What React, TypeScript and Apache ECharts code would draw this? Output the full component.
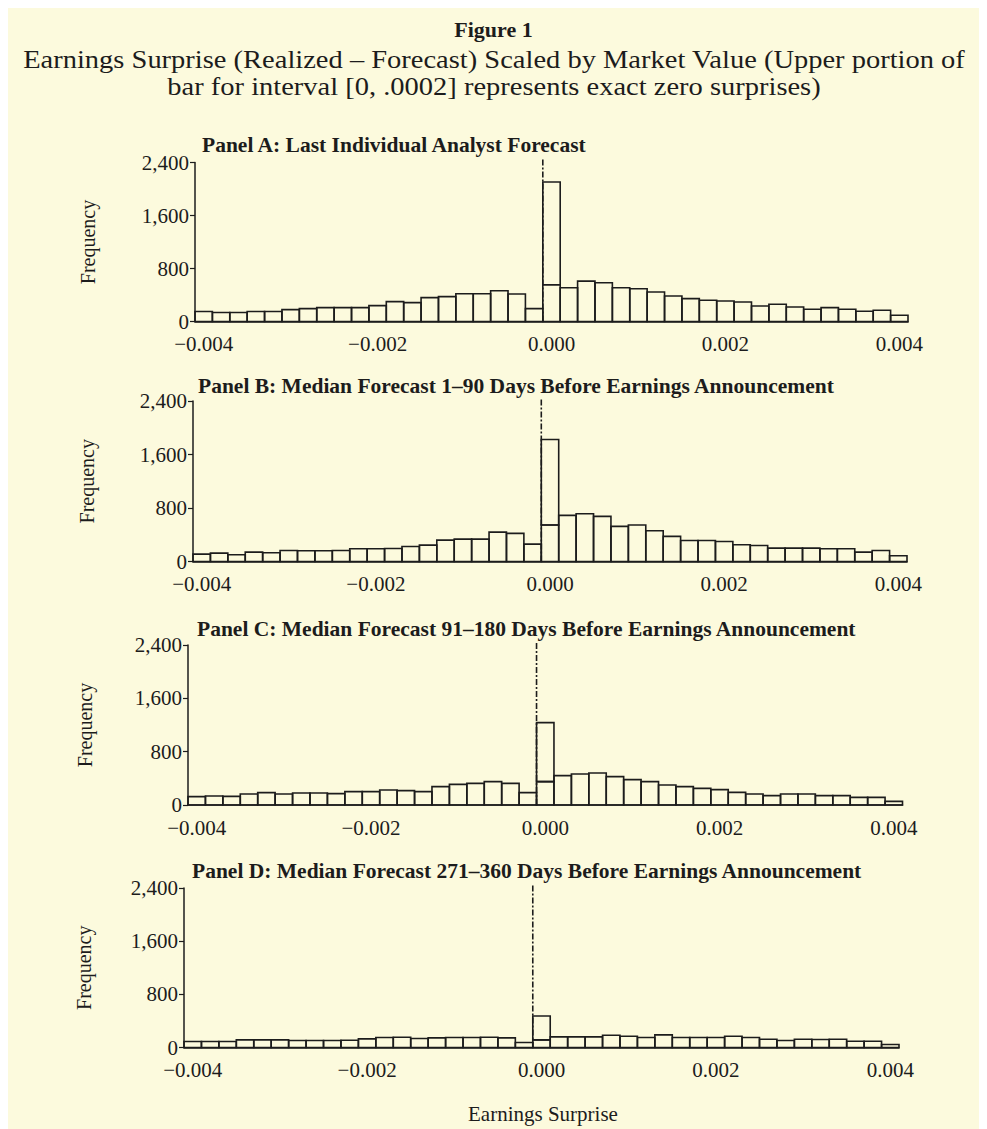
import React, { useEffect, useRef } from "react";
import * as echarts from "echarts";

// Bin midpoints of the histogram (bin width 0.0002)
const BIN_MIDS = [
  -0.004, -0.0038, -0.0036, -0.0034, -0.0032, -0.003, -0.0028, -0.0026, -0.0024, -0.0022,
  -0.002, -0.0018, -0.0016, -0.0014, -0.0012, -0.001, -0.0008, -0.0006, -0.0004, -0.0002,
  0,
  0.0002, 0.0004, 0.0006, 0.0008, 0.001, 0.0012, 0.0014, 0.0016, 0.0018, 0.002,
  0.0022, 0.0024, 0.0026, 0.0028, 0.003, 0.0032, 0.0034, 0.0036, 0.0038, 0.004,
];
const BIN_WIDTH = 0.0002;
const X_TICKS = [-0.004, -0.002, 0, 0.002, 0.004];
const X_MIN = -0.0041;
const X_MAX = 0.0041;
const Y_MAX = 2400;
const Y_INTERVAL = 800;
const ZERO_LINE_TOP = 2450;

const PANEL_TITLES = [
  "Panel A: Last Individual Analyst Forecast",
  "Panel B: Median Forecast 1\u201390 Days Before Earnings Announcement",
  "Panel C: Median Forecast 91\u2013180 Days Before Earnings Announcement",
  "Panel D: Median Forecast 271\u2013360 Days Before Earnings Announcement",
];

// Frequencies per bin (zero bin holds the non-exact-zero part)
const PANEL_A = [
  150, 135, 135, 150, 150, 180, 195, 210, 210, 210,
  240, 300, 285, 360, 375, 420, 420, 465, 415, 195,
  555,
  510, 610, 585, 510, 495, 445, 385, 345, 320, 310,
  295, 235, 260, 220, 185, 210, 185, 155, 170, 95,
];
const PANEL_A_EXACT_ZERO = 1550;

const PANEL_B = [
  110, 125, 100, 140, 130, 165, 160, 160, 165, 190,
  190, 195, 225, 245, 320, 335, 335, 440, 420, 260,
  545,
  690, 715, 675, 525, 545, 460, 375, 315, 315, 300,
  250, 240, 200, 200, 200, 190, 190, 140, 165, 85,
];
const PANEL_B_EXACT_ZERO = 1280;

const PANEL_C = [
  125, 135, 130, 165, 185, 165, 180, 180, 170, 200,
  200, 225, 215, 200, 275, 310, 325, 350, 325, 185,
  350,
  440, 465, 480, 425, 380, 350, 300, 275, 250, 230,
  190, 165, 140, 165, 165, 140, 140, 115, 115, 55,
];
const PANEL_C_EXACT_ZERO = 885;

const PANEL_D = [
  90, 90, 90, 115, 115, 115, 105, 105, 105, 110,
  130, 150, 155, 135, 145, 150, 150, 155, 145, 75,
  115,
  160, 160, 160, 185, 170, 150, 190, 150, 150, 150,
  170, 150, 125, 105, 125, 120, 125, 95, 95, 45,
];
const PANEL_D_EXACT_ZERO = 360;

const PANELS = [
  { counts: PANEL_A, exact: PANEL_A_EXACT_ZERO },
  { counts: PANEL_B, exact: PANEL_B_EXACT_ZERO },
  { counts: PANEL_C, exact: PANEL_C_EXACT_ZERO },
  { counts: PANEL_D, exact: PANEL_D_EXACT_ZERO },
];

const BG = "#FCFADD";
const INK = "#1c1c1c";
const SERIF = "'Liberation Serif', 'Times New Roman', serif";

// layout (chart coordinates)
const GRIDS = [
  { left: 187, top: 154.5, width: 713, height: 159 },
  { left: 185, top: 393, width: 714, height: 160.5 },
  { left: 180, top: 637, width: 714.5, height: 160 },
  { left: 176, top: 880, width: 715, height: 159.5 },
];
const TITLE_POS = [
  { x: 194, y: 137 },
  { x: 190, y: 378 },
  { x: 189, y: 621 },
  { x: 184, y: 863 },
];
const FREQ_X = [80, 79, 77, 76];

function fmtX(v: number) {
  const s = Math.abs(v).toFixed(3);
  return v < -1e-12 ? "\u2212" + s : s;
}

export default function App() {
  const ref = useRef<HTMLDivElement>(null);

  useEffect(() => {
    document.documentElement.style.overflow = "hidden";
    if (!ref.current) return;
    const chart = echarts.init(ref.current, undefined, { renderer: "svg" });
    const zeroIdx = BIN_MIDS.indexOf(0);
    const zeroEdge = BIN_MIDS[zeroIdx] - BIN_WIDTH / 2;

    const grid: any[] = [];
    const xAxis: any[] = [];
    const yAxis: any[] = [];
    const series: any[] = [];
    const graphic: any[] = [];

    PANELS.forEach((p, i) => {
      grid.push({ ...GRIDS[i], containLabel: false });
      xAxis.push({
        type: "value",
        gridIndex: i,
        min: X_MIN,
        max: X_MAX,
        axisLine: { show: true, onZero: false, lineStyle: { color: INK, width: 1.5 } },
        axisTick: { show: false },
        splitLine: { show: false },
        axisLabel: {
          customValues: X_TICKS,
          formatter: (v: number) => fmtX(v),
          fontFamily: SERIF,
          fontSize: 21,
          color: INK,
          margin: 12,
        },
      });
      yAxis.push({
        type: "value",
        gridIndex: i,
        min: 0,
        max: Y_MAX,
        interval: Y_INTERVAL,
        axisLine: { show: true, onZero: false, lineStyle: { color: INK, width: 1.5 } },
        axisTick: { show: true, length: 5, lineStyle: { color: INK, width: 1.2 } },
        splitLine: { show: false },
        axisLabel: {
          formatter: (v: number) => v.toLocaleString("en-US"),
          fontFamily: SERIF,
          fontSize: 21,
          color: INK,
          margin: 6,
        },
      });
      const data: number[][] = BIN_MIDS.map((m, k) => [m, p.counts[k], 0]);
      data.push([BIN_MIDS[zeroIdx], p.exact, p.counts[zeroIdx]]);
      series.push({
        type: "custom",
        xAxisIndex: i,
        yAxisIndex: i,
        data,
        encode: { x: 0, y: 1 },
        silent: true,
        renderItem: (_params: any, api: any) => {
          const mid = api.value(0);
          const h = api.value(1);
          const base = api.value(2);
          const tl = api.coord([mid - BIN_WIDTH / 2, base + h]);
          const br = api.coord([mid + BIN_WIDTH / 2, base]);
          return {
            type: "rect",
            shape: { x: tl[0], y: tl[1], width: br[0] - tl[0], height: br[1] - tl[1] },
            style: { fill: "rgba(0,0,0,0)", stroke: INK, lineWidth: 1.6 },
          };
        },
      });
      series.push({
        type: "line",
        xAxisIndex: i,
        yAxisIndex: i,
        data: [
          [zeroEdge, 0],
          [zeroEdge, ZERO_LINE_TOP],
        ],
        symbol: "none",
        clip: false,
        silent: true,
        z: 5,
        lineStyle: { color: INK, width: 1.6, type: [6, 2, 2, 2] },
      });
      graphic.push({
        type: "text",
        x: TITLE_POS[i].x,
        y: TITLE_POS[i].y,
        style: {
          text: PANEL_TITLES[i],
          font: `bold 21.5px ${SERIF}`,
          fill: INK,
          textAlign: "left",
          textVerticalAlign: "middle",
        },
      });
      graphic.push({
        type: "text",
        x: FREQ_X[i],
        y: GRIDS[i].top + GRIDS[i].height / 2,
        rotation: Math.PI / 2,
        style: {
          text: "Frequency",
          font: `20px ${SERIF}`,
          fill: INK,
          textAlign: "center",
          textVerticalAlign: "middle",
        },
      });
    });

    graphic.push(
      {
        type: "text",
        x: 485.5,
        y: 21,
        style: {
          text: "Figure 1",
          font: `bold 22px ${SERIF}`,
          fill: INK,
          textAlign: "center",
          textVerticalAlign: "middle",
        },
      },
      {
        type: "text",
        x: 486,
        y: 52,
        scaleX: 1.14,
        style: {
          text: "Earnings Surprise (Realized \u2013 Forecast) Scaled by Market Value (Upper portion of",
          font: `25px ${SERIF}`,
          fill: INK,
          textAlign: "center",
          textVerticalAlign: "middle",
        },
      },
      {
        type: "text",
        x: 486,
        y: 79,
        scaleX: 1.14,
        style: {
          text: "bar for interval [0, .0002] represents exact zero surprises)",
          font: `25px ${SERIF}`,
          fill: INK,
          textAlign: "center",
          textVerticalAlign: "middle",
        },
      },
      {
        type: "text",
        x: 535,
        y: 1106,
        style: {
          text: "Earnings Surprise",
          font: `21px ${SERIF}`,
          fill: INK,
          textAlign: "center",
          textVerticalAlign: "middle",
        },
      }
    );

    chart.setOption({
      animation: false,
      backgroundColor: BG,
      grid,
      xAxis,
      yAxis,
      series,
      graphic,
    });
    return () => chart.dispose();
  }, []);

  return <div ref={ref} style={{ width: 979, height: 1121, background: BG }} />;
}
